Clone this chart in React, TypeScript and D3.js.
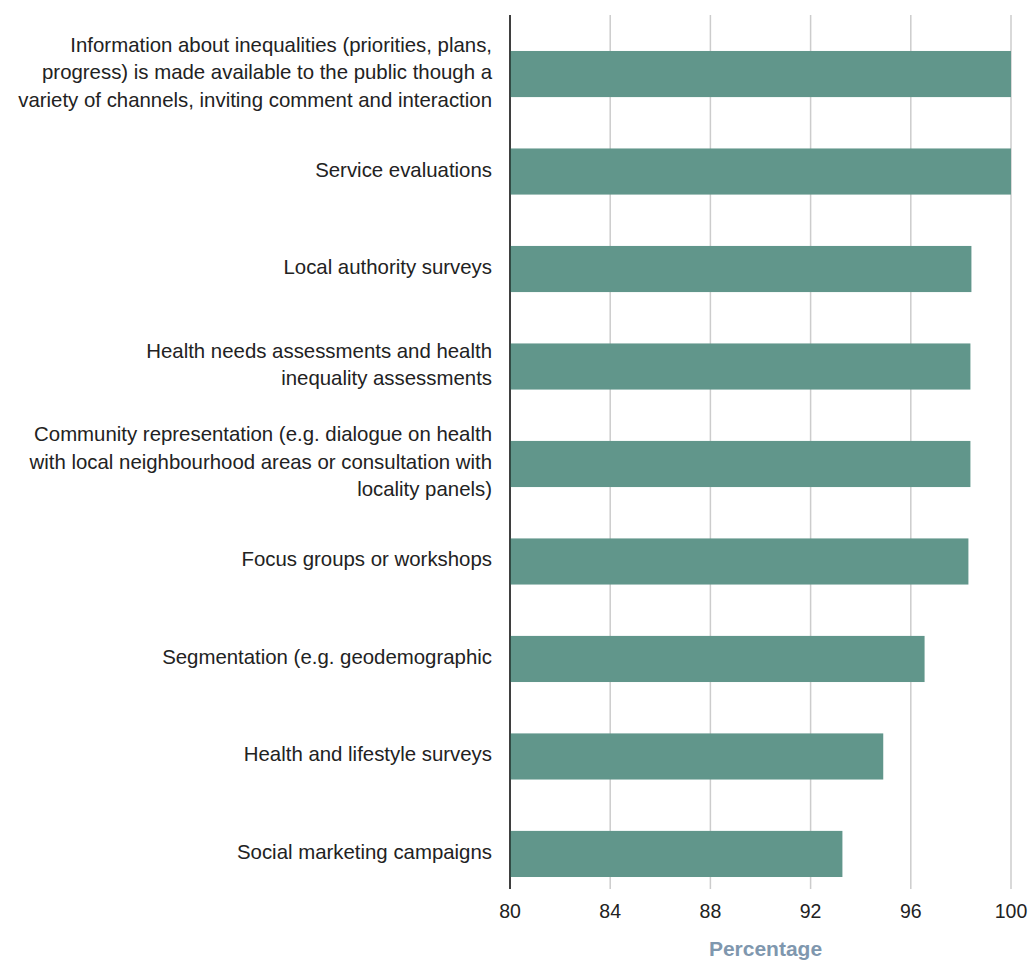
import React from "react";
import * as d3 from "d3";

const categories: string[] = [
  "Information about inequalities (priorities, plans,\nprogress) is made available to the public though a\nvariety of channels, inviting comment and interaction",
  "Service evaluations",
  "Local authority surveys",
  "Health needs assessments and health\ninequality assessments",
  "Community representation (e.g. dialogue on health\nwith local neighbourhood areas or consultation with\nlocality panels)",
  "Focus groups or workshops",
  "Segmentation (e.g. geodemographic",
  "Health and lifestyle surveys",
  "Social marketing campaigns",
];

const values: number[] = [100, 100, 98.42, 98.38, 98.38, 98.3, 96.55, 94.9, 93.27];

const xTicks: number[] = [80, 84, 88, 92, 96, 100];
const xDomain: [number, number] = [80, 100];
const axisTitle = "Percentage";

const W = 1029;
const H = 960;
const left = 510;
const right = 1011;
const top = 15;
const bottom = 889;
const font = "'Liberation Sans', Arial, Helvetica, sans-serif";

export default function App() {
  const x = d3.scaleLinear().domain(xDomain).range([left, right]);
  const y = d3
    .scaleBand<string>()
    .domain(categories)
    .range([top, bottom])
    .paddingInner(0.527)
    .paddingOuter(0.246)
    .align(0.75);

  const lineH = 27.5;

  return (
    <svg
      width={W}
      height={H}
      style={{ display: "block", position: "absolute", left: 0, top: 0 }}
      fontFamily={font}
    >
      {xTicks.map((t) => (
        <line
          key={"g" + t}
          x1={x(t)}
          x2={x(t)}
          y1={top}
          y2={bottom}
          stroke={t === xDomain[0] ? "#000" : "#cccccc"}
          strokeWidth={t === xDomain[0] ? 1 : 1.5}
        />
      ))}
      {categories.map((c, i) => (
        <rect
          key={"b" + i}
          x={x(xDomain[0])}
          y={y(c)}
          width={x(values[i]) - x(xDomain[0])}
          height={y.bandwidth()}
          fill="#61968b"
        />
      ))}
      <line x1={x(xDomain[0])} x2={x(xDomain[0])} y1={top} y2={bottom} stroke="#000" strokeWidth={1} />
      {categories.map((c, i) => {
        const lines = c.split("\n");
        const cy = (y(c) as number) + y.bandwidth() / 2 - 2;
        const y0 = cy - ((lines.length - 1) * lineH) / 2;
        return (
          <text key={"l" + i} x={left - 18} textAnchor="end" fontSize={20.4} fill="#222" dominantBaseline="central">
            {lines.map((ln, j) => (
              <tspan key={j} x={left - 18} y={y0 + j * lineH}>
                {ln}
              </tspan>
            ))}
          </text>
        );
      })}
      {xTicks.map((t) => (
        <text key={"t" + t} x={x(t)} y={911} textAnchor="middle" dominantBaseline="central" fontSize={19.5} fill="#222">
          {t}
        </text>
      ))}
      <text
        x={(left + right) / 2 + 5}
        y={948}
        textAnchor="middle"
        dominantBaseline="central"
        fontSize={21}
        fontWeight="bold"
        fill="#7f97ae"
      >
        {axisTitle}
      </text>
    </svg>
  );
}
